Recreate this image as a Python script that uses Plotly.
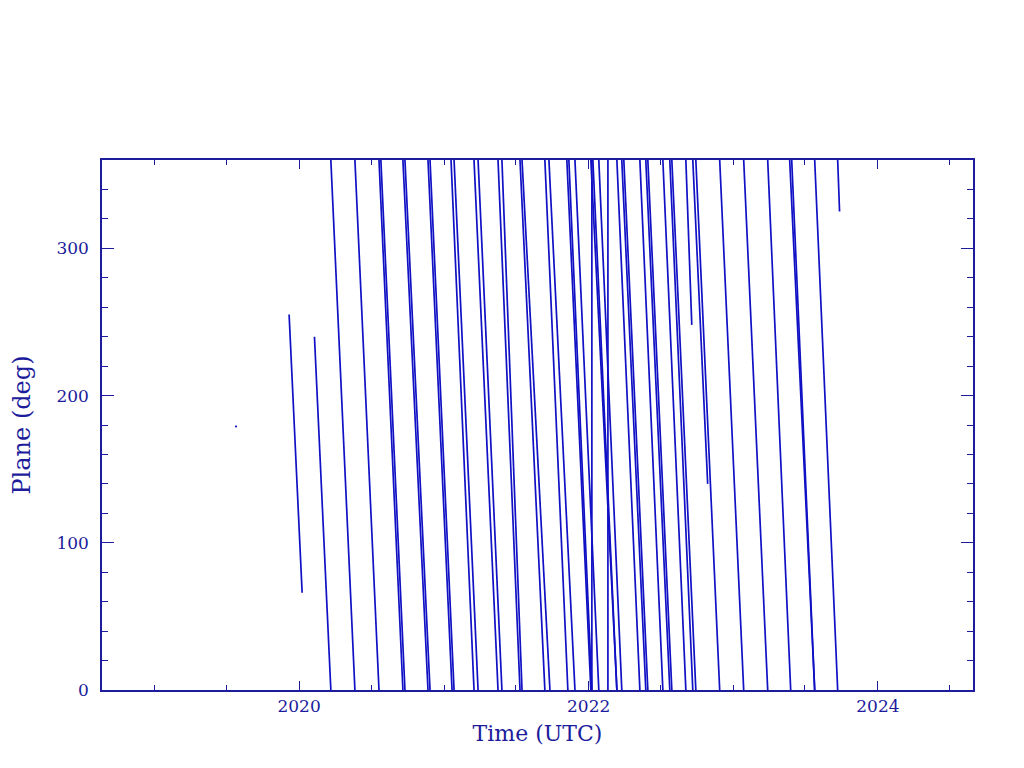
import plotly.graph_objects as go
from datetime import datetime

# Full wraps of the orbital plane: each runs from 360 deg (start) down to 0 deg (end), decimal years
wrap_start = [2020.219, 2020.385, 2020.551, 2020.564, 2020.716, 2020.730, 2020.889, 2020.903,
              2021.048, 2021.069, 2021.207, 2021.235, 2021.373, 2021.400, 2021.525, 2021.539,
              2021.697, 2021.725, 2021.849, 2021.863, 2021.905, 2022.015, 2022.029, 2022.070,
              2022.195, 2022.229, 2022.243, 2022.354, 2022.395, 2022.409, 2022.513, 2022.561,
              2022.575, 2022.741, 2022.906, 2023.072, 2023.238, 2023.390, 2023.404, 2023.563]
wrap_end = [2020.385, 2020.551, 2020.716, 2020.730, 2020.889, 2020.903, 2021.055, 2021.069,
            2021.207, 2021.235, 2021.373, 2021.400, 2021.525, 2021.539, 2021.697, 2021.732,
            2021.856, 2021.905, 2022.015, 2022.022, 2022.070, 2022.195, 2022.195, 2022.229,
            2022.354, 2022.395, 2022.409, 2022.513, 2022.561, 2022.575, 2022.672, 2022.720,
            2022.741, 2022.906, 2023.072, 2023.238, 2023.397, 2023.563, 2023.563, 2023.722]

# Partial tracks (start time, start deg, end time, end deg)
part_t0 = [2019.557, 2019.931, 2020.106, 2022.022, 2022.133, 2022.672, 2022.720, 2023.722]
part_v0 = [179, 255, 240, 0, 0, 360, 360, 360]
part_t1 = [2019.571, 2020.021, 2020.219, 2022.022, 2022.133, 2022.713, 2022.823, 2023.735]
part_v1 = [179, 66, 0, 360, 360, 248, 140, 325]

x_range = [2018.637, 2024.656]
y_range = [0, 360]


def to_date(y):
    yr = int(y)
    a = datetime(yr, 1, 1)
    b = datetime(yr + 1, 1, 1)
    return a + (b - a) * (y - yr)


xs, ys = [], []
for t0, t1 in zip(wrap_start, wrap_end):
    xs += [to_date(t0), to_date(t1), None]
    ys += [360, 0, None]
for t0, v0, t1, v1 in zip(part_t0, part_v0, part_t1, part_v1):
    xs += [to_date(t0), to_date(t1), None]
    ys += [v0, v1, None]

axis_col = "#1c1c9c"
line_col = "#1010c4"
font_fam = "DejaVu Serif"

fig = go.Figure()
fig.add_trace(go.Scatter(x=xs, y=ys, mode="lines",
                         line=dict(color=line_col, width=1.7),
                         connectgaps=False, showlegend=False, hoverinfo="skip"))

fig.update_layout(
    width=1016, height=760,
    margin=dict(l=94, r=51, t=152, b=78),
    paper_bgcolor="white", plot_bgcolor="white",
    font=dict(family=font_fam, color=axis_col, size=17),
    showlegend=False,
)
fig.update_xaxes(
    type="date", automargin=False,
    range=[to_date(x_range[0]), to_date(x_range[1])],
    tick0="2020-01-01", dtick="M24", tickformat="%Y",
    ticks="inside", ticklen=9, tickwidth=1.2, tickcolor=axis_col,
    minor=dict(dtick="M6", ticks="inside", ticklen=5, tickwidth=1.2, tickcolor=axis_col, showgrid=False),
    showline=True, linecolor=axis_col, linewidth=1.5, mirror="allticks",
    showgrid=False, zeroline=False,
    tickfont=dict(family=font_fam, size=17, color=axis_col),
    ticklabelstandoff=0,
    title=dict(text="Time (UTC)", font=dict(family=font_fam, size=22, color=axis_col), standoff=10),
)
fig.update_yaxes(
    automargin=False,
    range=y_range, dtick=100, tick0=0,
    ticks="inside", ticklen=12, tickwidth=1.2, tickcolor=axis_col,
    minor=dict(dtick=20, ticks="inside", ticklen=6, tickwidth=1.2, tickcolor=axis_col, showgrid=False),
    showline=True, linecolor=axis_col, linewidth=1.5, mirror="allticks",
    showgrid=False, zeroline=False,
    tickfont=dict(family=font_fam, size=17, color=axis_col),
    ticklabelstandoff=8,
    title=dict(text="Plane (deg)", font=dict(family=font_fam, size=24, color=axis_col), standoff=38),
)

fig.write_html("out.html")
